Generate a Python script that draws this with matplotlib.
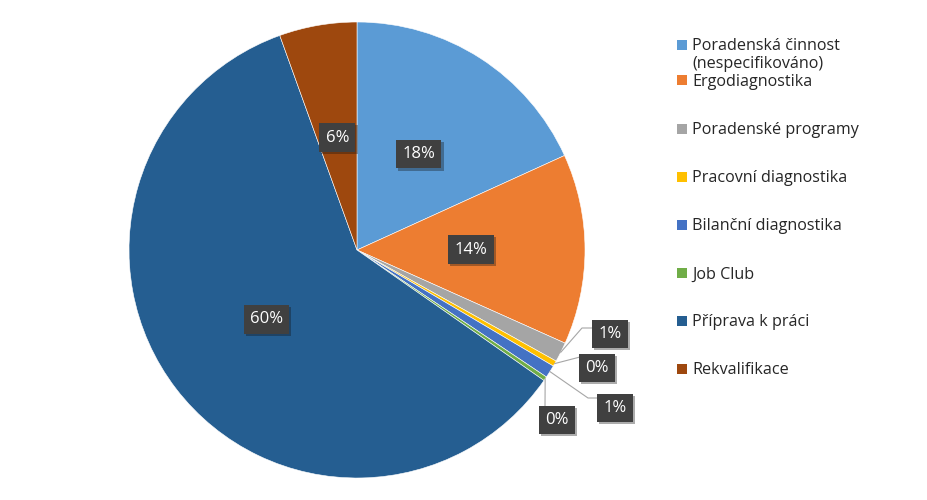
import numpy as np
import matplotlib.pyplot as plt
import matplotlib.patheffects as pe
from matplotlib.patches import Rectangle

plt.rcParams["font.family"] = ["Open Sans", "DejaVu Sans"]

# data
kategorie = [
    "Poradenská činnost\n(nespecifikováno)",
    "Ergodiagnostika",
    "Poradenské programy",
    "Pracovní diagnostika",
    "Bilanční diagnostika",
    "Job Club",
    "Příprava k práci",
    "Rekvalifikace",
]
podily = [18.2, 13.5, 1.4, 0.4, 0.9, 0.3, 59.8, 5.5]
popisky = ["18%", "14%", "1%", "0%", "1%", "0%", "60%", "6%"]
barvy = ["#5B9BD5", "#ED7D31", "#A5A5A5", "#FFC000",
         "#4472C4", "#70AD47", "#255E91", "#9E480E"]

W, H = 927, 500
fig = plt.figure(figsize=(W / 100, H / 100), dpi=100)
ax = fig.add_axes([0, 0, 1, 1])

stred = (357, H - 250)
polomer = 228
wedges, _ = ax.pie(podily, colors=barvy, startangle=90, counterclock=False,
                   center=stred, radius=polomer,
                   wedgeprops=dict(edgecolor="white", linewidth=0.4))
ax.set_xlim(0, W)
ax.set_ylim(0, H)
ax.set_aspect("equal")
ax.axis("off")

box = dict(boxstyle="square,pad=0.38", facecolor="#404040", edgecolor="none")
stin = [pe.withSimplePatchShadow(offset=(1.5, -1.5), alpha=0.35)]


def mid_bod(w, r):
    a = np.deg2rad((w.theta1 + w.theta2) / 2)
    return stred[0] + r * np.cos(a), stred[1] + r * np.sin(a)


def popisek(x, y, s):
    t = ax.text(x, y, s, ha="center", va="center", color="white",
                fontsize=12, bbox=box, zorder=5)
    t.get_bbox_patch().set_path_effects(stin)


# popisky uvnitr velkych vysecí
for i in [0, 1, 6, 7]:
    x, y = mid_bod(wedges[i], polomer * 0.5)
    popisek(x, y, popisky[i])

# popisky malych vysecí: pozice stitku a lomy vodicich car (pixely obrazku)
venku = {
    2: ((610, 334), [(582, 328), (592, 328)]),
    3: ((597, 368), [(580, 357)]),
    4: ((615, 408), [(588, 398), (598, 398)]),
    5: ((557, 420), [(545, 407)]),
}
for i, ((px, py), lomy) in venku.items():
    x0, y0 = mid_bod(wedges[i], polomer)
    xs = [x0] + [p[0] for p in lomy]
    ys = [y0] + [H - p[1] for p in lomy]
    ax.plot(xs, ys, color="#A6A6A6", lw=0.8, zorder=4)
    popisek(px, H - py, popisky[i])

# legenda
leg_y = [45, 80, 129, 177, 225, 273, 321, 369]
for k, (nazev, c) in enumerate(zip(kategorie, barvy)):
    y = H - leg_y[k]
    ax.add_patch(Rectangle((677, y - 5), 10, 10, facecolor=c, edgecolor="none"))
    if "\n" in nazev:
        ax.text(692, y + 7, nazev, ha="left", va="top", fontsize=11.6,
                color="#262626", linespacing=1.15)
    else:
        ax.text(692, y - 1.5, nazev, ha="left", va="center", fontsize=11.6,
                color="#262626")

fig.savefig("out.png", dpi=100)
